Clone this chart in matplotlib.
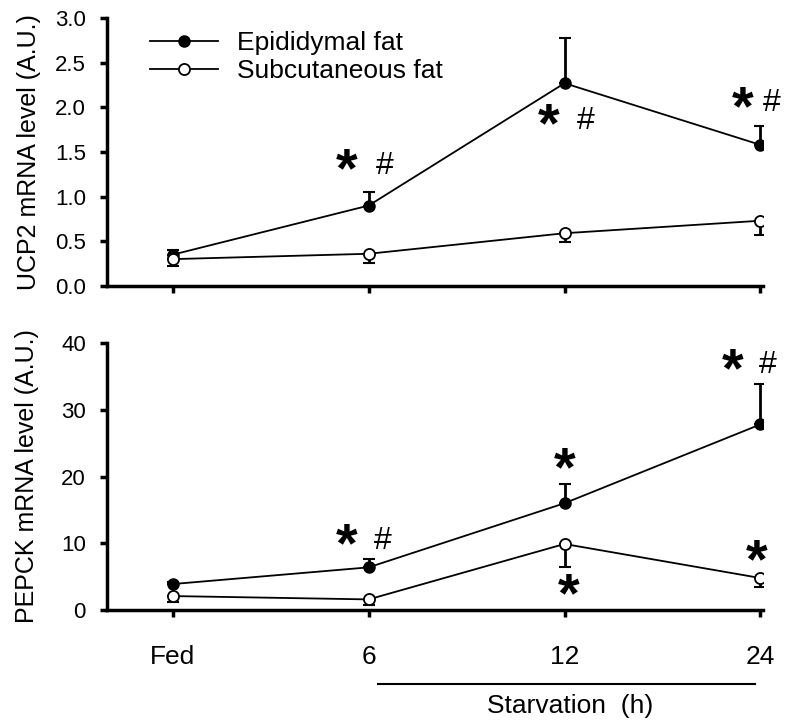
import numpy as np
import matplotlib
matplotlib.use("Agg")
import matplotlib.pyplot as plt
import matplotlib.transforms as mtransforms

plt.rcParams['font.family'] = ['Liberation Sans', 'DejaVu Sans']

# x categories
groups = ['Fed', '6', '12', '24']

# UCP2 (top panel)
ucp2_epi = [0.35, 0.90, 2.27, 1.58]
ucp2_epi_err = [0.05, 0.15, 0.51, 0.21]
ucp2_sub = [0.30, 0.36, 0.59, 0.73]
ucp2_sub_err = [0.08, 0.10, 0.10, 0.16]

# PEPCK (bottom panel)
pepck_epi = [3.9, 6.4, 16.0, 27.8]
pepck_epi_err = [0.3, 1.2, 2.9, 6.1]
pepck_sub = [2.1, 1.6, 9.9, 4.8]
pepck_sub_err = [0.9, 0.9, 3.5, 1.4]

# significance marks: (x index, y value, symbol)
ucp2_marks = [(0.89, 1.38, '*'), (1.08, 1.38, '#'),
              (1.92, 1.88, '*'), (2.11, 1.88, '#'),
              (2.91, 2.08, '*'), (3.06, 2.08, '#')]
pepck_marks = [(0.89, 10.8, '*'), (1.07, 10.8, '#'),
               (2.0, 22.2, '*'),
               (2.86, 37.1, '*'), (3.04, 37.1, '#'),
               (2.98, 8.5, '*'),
               (2.02, 3.4, '*')]

fig = plt.figure(figsize=(7.91, 7.22), dpi=100)
ax1 = fig.add_axes([0.135, 0.604, 0.830, 0.371])
ax2 = fig.add_axes([0.135, 0.155, 0.830, 0.370])

x = np.arange(len(groups))


def draw_panel(ax, epi, epi_err, sub, sub_err):
    ax.errorbar(x, epi, yerr=[np.zeros(len(epi)), epi_err], fmt='none',
                ecolor='black', elinewidth=2, capsize=4, capthick=1.5, zorder=2)
    ax.errorbar(x, sub, yerr=[sub_err, np.zeros(len(sub))], fmt='none',
                ecolor='black', elinewidth=2, capsize=4, capthick=1.5, zorder=2)
    ax.plot(x, epi, color='black', lw=1.3, marker='o', ms=8,
            mfc='black', mec='black', label='Epididymal fat', zorder=3)
    ax.plot(x, sub, color='black', lw=1.3, marker='o', ms=8,
            mfc='white', mec='black', mew=1.3, label='Subcutaneous fat', zorder=3)
    ax.spines['top'].set_visible(False)
    ax.spines['right'].set_visible(False)
    ax.spines['left'].set_linewidth(2.5)
    ax.spines['bottom'].set_linewidth(2.5)
    ax.set_xlim(-0.337, 3.015)
    ax.set_xticks(x)
    ax.tick_params(axis='both', direction='out', length=5, width=2.5,
                   labelsize=16)
    ax.tick_params(axis='y', pad=10)


def draw_marks(ax, marks):
    for mx, my, s in marks:
        if s == '*':
            ax.annotate(s, (mx, my), xytext=(0, -17), textcoords='offset points',
                        ha='center', va='baseline', fontsize=40,
                        fontweight='bold', annotation_clip=False)
        else:
            ax.annotate(s, (mx, my), xytext=(0, -8), textcoords='offset points',
                        ha='center', va='baseline', fontsize=23,
                        annotation_clip=False)


draw_panel(ax1, ucp2_epi, ucp2_epi_err, ucp2_sub, ucp2_sub_err)
ax1.set_ylim(0, 3.0)
ax1.set_yticks([0.0, 0.5, 1.0, 1.5, 2.0, 2.5, 3.0])
ax1.set_yticklabels(['0.0', '0.5', '1.0', '1.5', '2.0', '2.5', '3.0'])
ax1.set_xticklabels([])
ax1.set_ylabel('UCP2 mRNA level (A.U.)', fontsize=18, labelpad=10)
draw_marks(ax1, ucp2_marks)
ax1.legend(loc='upper left', bbox_to_anchor=(0.045, 1.0), frameon=False,
           fontsize=19, handlelength=2.6, handletextpad=0.7,
           labelspacing=0.15, borderaxespad=0.1)

draw_panel(ax2, pepck_epi, pepck_epi_err, pepck_sub, pepck_sub_err)
ax2.set_ylim(0, 40)
ax2.set_yticks([0, 10, 20, 30, 40])
ax2.set_xticklabels(groups, fontsize=19)
ax2.tick_params(axis='x', pad=20)
ax2.set_ylabel('PEPCK mRNA level (A.U.)', fontsize=18, labelpad=16)
draw_marks(ax2, pepck_marks)

# starvation bracket under the x axis
trans = mtransforms.blended_transform_factory(ax2.transData, ax2.transAxes)
ax2.plot([1.05, 2.97], [-0.275, -0.275], color='black', lw=1.5,
         transform=trans, clip_on=False)
ax2.text(2.03, -0.36, 'Starvation  (h)', transform=trans, ha='center',
         va='center', fontsize=19)

fig.savefig('out.png', dpi=100)
